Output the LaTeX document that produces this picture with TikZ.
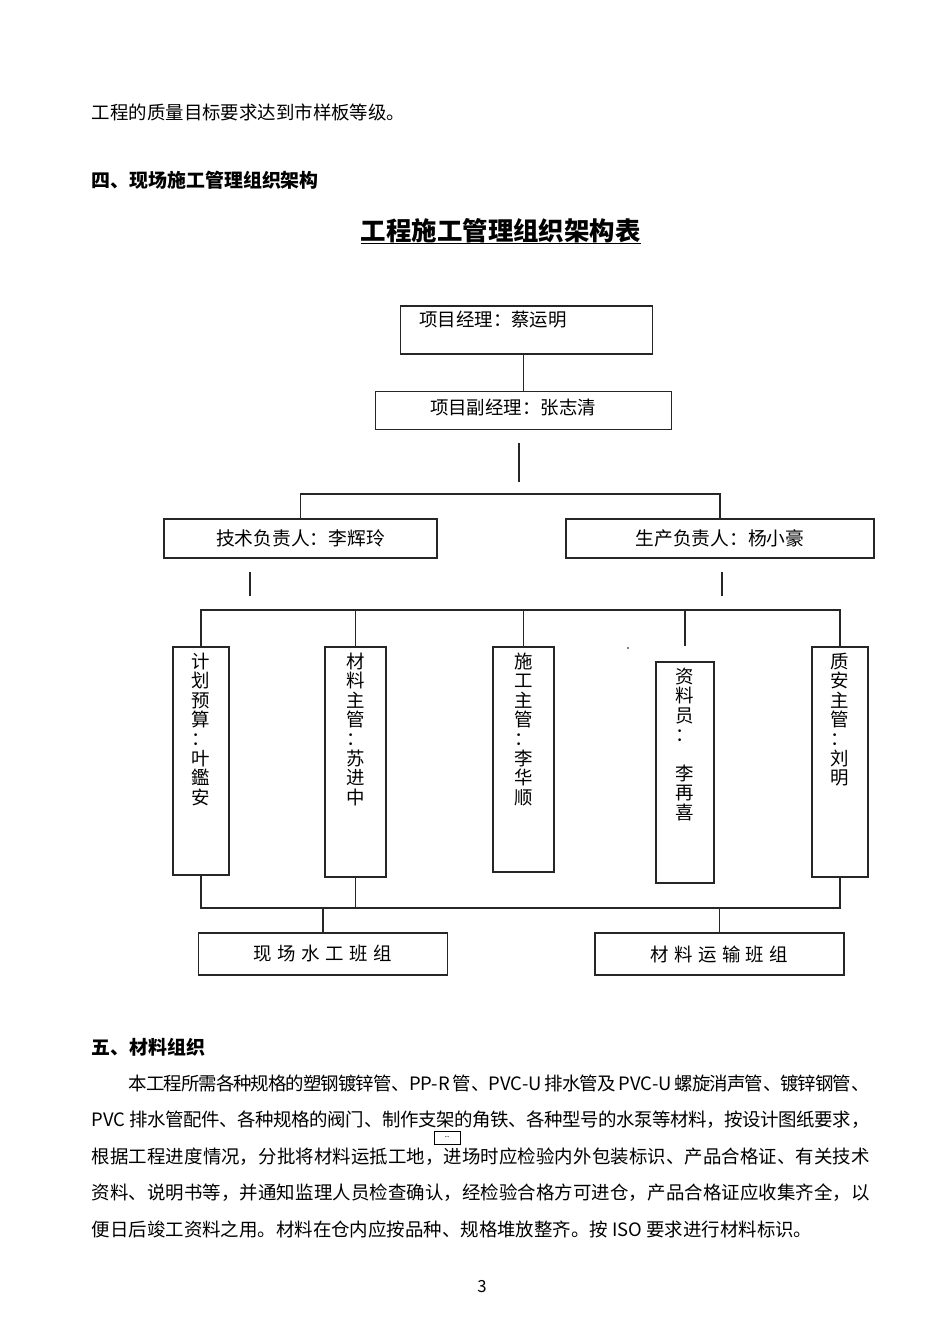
\documentclass[tikz,border=0pt]{standalone}
\usepackage{fontspec}
\setmainfont{Noto Sans CJK SC}
\usetikzlibrary{positioning, calc}
\newlength\pxu
\setlength\pxu{0.2211mm}
\XeTeXlinebreaklocale "zh"
\XeTeXlinebreakskip=0pt plus 1.5pt minus 0.8pt

\begin{document}
\begin{tikzpicture}[
    x=0.2211mm, y=-0.2211mm,
    txt/.style={font=\fontsize{11.6}{14}\selectfont, inner sep=0pt},
    head/.style={font=\fontsize{11.9}{14}\selectfont\bfseries, inner sep=0pt},
    post/.style={draw=black!85, line width=1pt, inner sep=0pt,
        font=\fontsize{11.8}{14}\selectfont},
    col/.style={draw=black!85, line width=1pt, inner sep=0pt},
    vtxt/.style={font=\fontsize{11.6}{12.2}\selectfont, align=center, inner sep=0pt},
    team/.style={post, minimum width=249*\pxu, minimum height=42*\pxu,
        font=\fontsize{11.6}{14}\selectfont\addfontfeature{LetterSpace=30}},
    link/.style={line width=0.7pt, black!85},
]

% ---- Page ----
\fill[white] (0,0) rectangle (950,1344);
\useasboundingbox (0,0) rectangle (950,1344);

% ---- Text above the chart ----
\node[txt, anchor=west] (intro) at (91.5,112) {工程的质量目标要求达到市样板等级。};
\node[head, anchor=west] (sec4) at (91.5,180) {四、现场施工管理组织架构};
\node[anchor=base, inner sep=0pt, font=\fontsize{16}{20}\selectfont\bfseries] (title)
    at (500.75,240) {工程施工管理组织架构表};
\draw[line width=0.9pt] ([yshift=-2.2pt]title.base west) -- ([yshift=-2.2pt]title.base east);

% ---- Managers ----
\node[post, minimum width=252*\pxu, minimum height=48*\pxu] (pm) at (526.5,330) {};
\node[txt, anchor=west] (pmtxt) at (419,320) {项目经理：蔡运明};
\node[post, minimum width=296*\pxu, minimum height=38*\pxu] (dpm) at (523.5,410.5) {};
\node[txt] (dpmtxt) at (513,408) {项目副经理：张志清};
\node[post, minimum width=273*\pxu, minimum height=39*\pxu] (tech) at (300.5,538.5) {技术负责人：李辉玲};
\node[post, minimum width=308*\pxu, minimum height=39*\pxu] (prod) at (720,538.5) {生产负责人：杨小豪};

% ---- Column boxes ----
\node[col, minimum width=56*\pxu, minimum height=228*\pxu] (c1) at (201,761) {};
\node[col, minimum width=61*\pxu, minimum height=230*\pxu] (c2) at (355.5,762) {};
\node[col, minimum width=61*\pxu, minimum height=225*\pxu] (c3) at (523.5,759.5) {};
\node[col, minimum width=58*\pxu, minimum height=221*\pxu] (c4) at (685,772.5) {};
\node[col, minimum width=56*\pxu, minimum height=230*\pxu] (c5) at (840,762) {};

\node[vtxt, below=4pt of c1.north] (c1t) {计\\划\\预\\算\\：\\叶\\鑑\\安};
\node[vtxt, below=4pt of c2.north] (c2t) {材\\料\\主\\管\\：\\苏\\进\\中};
\node[vtxt, below=4pt of c3.north] (c3t) {施\\工\\主\\管\\：\\李\\华\\顺};
\node[vtxt, below=4pt of c4.north] (c4t) {资\\料\\员\\：\\　\\李\\再\\喜};
\node[vtxt, below=4pt of c5.north] (c5t) {质\\安\\主\\管\\：\\刘\\明};

% ---- Teams ----
\node[team] (crew) at (323,954) {现场水工班组};
\node[team] (haul) at (719.25,954) {材料运输班组};

% ---- Connectors ----
\draw[link] (dpm.north) -- (dpm.north |- pm.south);
\coordinate (gap) at (519,443);
\draw[link] (gap) -- ++(0,39);
\coordinate (fork1) at (512,494);
\draw[link] (tech.north) |- (fork1) -| (prod.north);
\coordinate (stubL) at (250,572);
\coordinate (stubR) at (722,572);
\draw[link] (stubL) -- ++(0,24);
\draw[link] (stubR) -- ++(0,24);

\coordinate (fork2) at (520,610);
\draw[link] (c1.north) |- (fork2) -| (c5.north);
\draw[link] (c2.north) -- (c2.north |- fork2);
\draw[link] (c3.north) -- (c3.north |- fork2);
\draw[link] (c4.north |- c1.north) -- (c4.north |- fork2);
\fill (628,648) circle (0.8);

\coordinate (join) at (520,908);
\draw[link] (c1.south) |- (join) -| (c5.south);
\draw[link] (c2.south) -- (c2.south |- join);
\draw[link] (crew.north) -- (crew.north |- join);
\draw[link] (haul.north) -- (haul.north |- join);

% ---- Text below the chart ----
\node[head, anchor=west] (sec5) at (91.5,1047) {五、材料组织};
\node[anchor=base west, inner sep=0pt, text width=172mm, align=justify,
      font=\fontsize{11.6}{23.03}\selectfont] (body) at (91.5,1090)
    {\parindent=0pt\hspace*{2em}本工程所需各种规格的塑钢镀锌管、PP-R 管、PVC-U 排水管及 PVC-U 螺旋消声管、镀锌钢管、\linebreak
     PVC 排水管配件、各种规格的阀门、制作支架的角铁、各种型号的水泵等材料，按设计图纸要求，\linebreak
     根据工程进度情况，分批将材料运抵工地，进场时应检验内外包装标识、产品合格证、有关技术\linebreak
     资料、说明书等，并通知监理人员检查确认，经检验合格方可进仓，产品合格证应收集齐全，以\linebreak
     便日后竣工资料之用。材料在仓内应按品种、规格堆放整齐。按 ISO 要求进行材料标识。};
\node[draw, line width=0.5pt, minimum width=26*\pxu, minimum height=13*\pxu, inner sep=0pt,
      font=\fontsize{5}{5}\selectfont] (mark) at (447,1137.5) {..};
\node[txt, font=\fontsize{10.5}{12}\selectfont] (pgno) at (482,1287) {3};

\end{tikzpicture}
\end{document}
